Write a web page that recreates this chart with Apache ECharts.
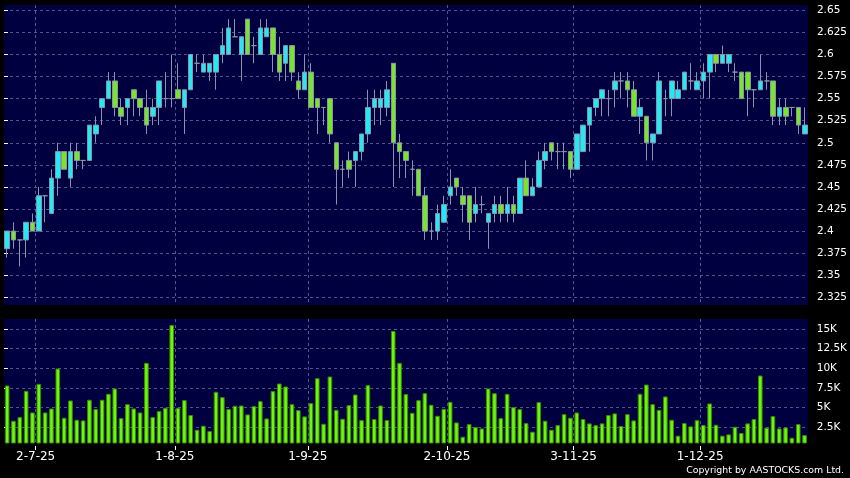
<!DOCTYPE html>
<html><head><meta charset="utf-8">
<script src="https://cdn.jsdelivr.net/npm/echarts@6/dist/echarts.min.js"></script>
<style>html,body{margin:0;padding:0;background:#000;} #c{width:850px;height:478px;}</style>
</head><body><div id="c"></div>
<script>
const dates = ['24-6-25','25-6-25','26-6-25','27-6-25','30-6-25',
'2-7-25','3-7-25','4-7-25','7-7-25','8-7-25','9-7-25','10-7-25','11-7-25','14-7-25','15-7-25','16-7-25','17-7-25','18-7-25','21-7-25','22-7-25','23-7-25','24-7-25','25-7-25','28-7-25','29-7-25','30-7-25','31-7-25',
'1-8-25','4-8-25','5-8-25','6-8-25','7-8-25','8-8-25','11-8-25','12-8-25','13-8-25','14-8-25','15-8-25','18-8-25','19-8-25','20-8-25','21-8-25','22-8-25','25-8-25','26-8-25','27-8-25','28-8-25','29-8-25',
'1-9-25','2-9-25','3-9-25','4-9-25','5-9-25','8-9-25','9-9-25','10-9-25','11-9-25','12-9-25','15-9-25','16-9-25','17-9-25','18-9-25','19-9-25','22-9-25','23-9-25','24-9-25','25-9-25','26-9-25','29-9-25','30-9-25',
'2-10-25','3-10-25','6-10-25','8-10-25','9-10-25','10-10-25','13-10-25','14-10-25','15-10-25','16-10-25','17-10-25','20-10-25','21-10-25','22-10-25','23-10-25','24-10-25','27-10-25','28-10-25','30-10-25','31-10-25',
'3-11-25','4-11-25','5-11-25','6-11-25','7-11-25','10-11-25','11-11-25','12-11-25','13-11-25','14-11-25','17-11-25','18-11-25','19-11-25','20-11-25','21-11-25','24-11-25','25-11-25','26-11-25','27-11-25','28-11-25',
'1-12-25','2-12-25','3-12-25','4-12-25','5-12-25','8-12-25','9-12-25','10-12-25','11-12-25','12-12-25','15-12-25','16-12-25','17-12-25','18-12-25','19-12-25','22-12-25','23-12-25'];

const labelDates = ['2-7-25','1-8-25','1-9-25','2-10-25','3-11-25','1-12-25'];

const open = [2.38,2.40,2.39,2.39,2.41,2.40,2.44,2.42,2.46,2.49,
2.46,2.49,2.48,2.48,2.51,2.54,2.55,2.57,2.54,2.54,
2.56,2.55,2.54,2.53,2.54,2.55,2.55,2.56,2.54,2.56,
2.59,2.58,2.58,2.58,2.60,2.60,2.62,2.60,2.64,2.61,
2.60,2.62,2.63,2.60,2.59,2.61,2.57,2.56,2.58,2.55,
2.54,2.55,2.50,2.47,2.48,2.48,2.49,2.51,2.54,2.54,
2.54,2.59,2.50,2.49,2.47,2.47,2.44,2.40,2.40,2.41,
2.44,2.46,2.44,2.44,2.42,2.43,2.41,2.42,2.43,2.42,
2.43,2.42,2.46,2.44,2.45,2.48,2.50,2.49,2.49,2.49,
2.47,2.49,2.52,2.54,2.55,2.55,2.56,2.57,2.57,2.56,
2.53,2.53,2.50,2.51,2.55,2.55,2.55,2.56,2.57,2.56,
2.57,2.58,2.60,2.59,2.59,2.58,2.58,2.58,2.56,2.56,
2.57,2.57,2.53,2.54,2.54,2.54,2.51];

const high = [2.40,2.41,2.39,2.41,2.42,2.45,2.44,2.47,2.50,2.49,
2.50,2.50,2.48,2.52,2.53,2.55,2.58,2.58,2.55,2.55,
2.56,2.55,2.56,2.55,2.57,2.58,2.60,2.59,2.56,2.60,
2.60,2.60,2.59,2.60,2.63,2.64,2.64,2.62,2.64,2.62,
2.64,2.64,2.63,2.62,2.61,2.61,2.58,2.60,2.59,2.55,
2.54,2.55,2.50,2.48,2.49,2.49,2.51,2.56,2.56,2.56,
2.57,2.59,2.51,2.49,2.48,2.47,2.45,2.41,2.43,2.44,
2.47,2.46,2.45,2.44,2.45,2.44,2.42,2.44,2.44,2.45,
2.44,2.46,2.48,2.46,2.49,2.50,2.50,2.50,2.50,2.49,
2.51,2.52,2.54,2.55,2.56,2.56,2.58,2.58,2.58,2.57,
2.55,2.53,2.51,2.58,2.56,2.57,2.57,2.58,2.59,2.58,
2.59,2.60,2.60,2.61,2.60,2.59,2.58,2.58,2.56,2.60,
2.58,2.57,2.55,2.55,2.54,2.54,2.54];

const low = [2.37,2.38,2.36,2.37,2.40,2.40,2.41,2.42,2.44,2.47,
2.45,2.47,2.47,2.48,2.50,2.52,2.55,2.53,2.52,2.52,
2.53,2.53,2.51,2.52,2.52,2.54,2.54,2.55,2.51,2.56,
2.58,2.58,2.57,2.56,2.59,2.60,2.62,2.57,2.60,2.59,
2.60,2.62,2.58,2.57,2.57,2.57,2.55,2.56,2.54,2.51,
2.52,2.50,2.43,2.45,2.46,2.45,2.48,2.50,2.52,2.52,
2.53,2.45,2.46,2.46,2.44,2.44,2.39,2.39,2.39,2.41,
2.43,2.44,2.41,2.39,2.41,2.42,2.38,2.41,2.41,2.41,
2.41,2.42,2.44,2.44,2.45,2.47,2.48,2.47,2.47,2.46,
2.47,2.49,2.49,2.53,2.53,2.53,2.54,2.55,2.54,2.53,
2.51,2.48,2.48,2.51,2.53,2.53,2.55,2.56,2.56,2.56,
2.55,2.55,2.58,2.59,2.58,2.57,2.55,2.53,2.54,2.56,
2.56,2.52,2.52,2.52,2.53,2.51,2.51];

const close = [2.40,2.39,2.39,2.41,2.40,2.44,2.44,2.46,2.49,2.47,
2.49,2.48,2.48,2.52,2.52,2.55,2.57,2.54,2.53,2.55,
2.55,2.54,2.52,2.54,2.57,2.55,2.55,2.55,2.56,2.60,
2.59,2.59,2.59,2.60,2.61,2.63,2.62,2.62,2.60,2.61,
2.63,2.63,2.60,2.58,2.61,2.58,2.56,2.58,2.54,2.54,
2.54,2.51,2.47,2.47,2.47,2.49,2.51,2.54,2.55,2.55,
2.56,2.50,2.49,2.48,2.47,2.44,2.40,2.40,2.42,2.43,
2.45,2.45,2.43,2.41,2.43,2.43,2.42,2.43,2.42,2.43,
2.42,2.46,2.44,2.45,2.48,2.49,2.49,2.49,2.49,2.47,
2.51,2.52,2.54,2.55,2.56,2.55,2.57,2.57,2.56,2.53,
2.54,2.50,2.51,2.57,2.55,2.57,2.56,2.58,2.57,2.57,
2.58,2.60,2.59,2.60,2.60,2.58,2.55,2.56,2.56,2.57,
2.57,2.53,2.54,2.53,2.54,2.52,2.52];

const volume = [7800,3300,3770,7120,4360,8010,4360,4870,9960,3690,
5890,3430,3350,5980,4790,5980,6740,7420,3640,5420,
4870,4360,10680,3770,4530,4960,15510,4960,5930,4030,
2160,2670,1990,6990,6310,4790,5210,5250,4110,5170,
5810,3600,7080,8050,7670,5420,4660,3860,5550,8730,
2920,8940,4700,3560,5300,6650,3390,7840,3520,5250,
3390,14750,10680,6700,4320,5930,6820,5340,3940,4830,
5720,3090,1270,2880,2500,2330,7420,6820,3640,6740,
5040,4790,3010,1910,5680,3310,2160,2750,4150,3690,
4360,3520,2970,2750,2970,4030,4240,2630,4150,3350,
6740,7920,5420,4700,6400,3430,1400,3010,2590,3390,
2750,5510,2800,1400,1570,2540,1740,2970,3520,9070,
2420,3900,2330,2460,1140,2880,1480];

const priceTicks = [2.325,2.35,2.375,2.4,2.425,2.45,2.475,2.5,2.525,2.55,2.575,2.6,2.625,2.65];
const priceTickLabels = ['2.325','2.35','2.375','2.4','2.425','2.45','2.475','2.5','2.525','2.55','2.575','2.6','2.625','2.65'];
const volumeTicks = [2500,5000,7500,10000,12500,15000];
const volumeTickLabels = ['2.5K','5K','7.5K','10K','12.5K','15K'];

const candles = dates.map((d, i) => [open[i], close[i], low[i], high[i]]);
// slot boundary index of each labelled date (left edge of its trading-day slot)
const labelIdx = labelDates.map(d => dates.indexOf(d));
const pick = (ticks, labels) => v => { const k = ticks.findIndex(t => Math.abs(t - v) < 1e-6); return k >= 0 ? labels[k] : ''; };

const dash = { color: '#54548c', type: [3, 3], width: 1 };
const labelFont = { color: '#ffffff', fontFamily: 'DejaVu Sans' };

const chart = echarts.init(document.getElementById('c'), null, { renderer: 'canvas' });
chart.setOption({
  backgroundColor: '#000000',
  animation: false,
  grid: [
    { left: 4, top: 5, width: 804, height: 300, show: true, backgroundColor: '#000040', borderWidth: 0 },
    { left: 4, top: 319, width: 804, height: 124, show: true, backgroundColor: '#000040', borderWidth: 0 }
  ],
  xAxis: [
    // category axes that carry the marks
    { type: 'category', gridIndex: 0, data: dates, boundaryGap: true, position: 'top', show: false },
    { type: 'category', gridIndex: 1, data: dates, boundaryGap: true, position: 'top', show: false },
    // slot-boundary axes for the date gridlines / labels
    { type: 'value', gridIndex: 0, position: 'bottom', min: 0, max: dates.length,
      axisLine: { show: false },
      axisTick: { show: false, customValues: labelIdx },
      axisLabel: { show: false, customValues: labelIdx },
      splitLine: { show: true, lineStyle: dash } },
    { type: 'value', gridIndex: 1, position: 'bottom', min: 0, max: dates.length, offset: 3,
      axisLine: { show: false },
      axisTick: { show: true, length: 4, customValues: labelIdx, lineStyle: { color: '#ffffff' } },
      axisLabel: Object.assign({ show: true, customValues: labelIdx, formatter: v => dates[Math.round(v)], fontSize: 12, margin: 5 }, labelFont),
      splitLine: { show: true, lineStyle: dash } }
  ],
  yAxis: [
    { type: 'value', gridIndex: 0, position: 'right', min: 2.3163, max: 2.656, offset: 2,
      axisLine: { show: false },
      axisTick: { show: true, length: 4, customValues: priceTicks, lineStyle: { color: '#ffffff' } },
      axisLabel: Object.assign({ customValues: priceTicks, formatter: pick(priceTicks, priceTickLabels), fontSize: 10.5, margin: 7 }, labelFont),
      splitLine: { show: true, lineStyle: dash } },
    { type: 'value', gridIndex: 1, position: 'right', min: 470, max: 16268, offset: 2,
      axisLine: { show: false },
      axisTick: { show: true, length: 4, customValues: volumeTicks, lineStyle: { color: '#ffffff' } },
      axisLabel: Object.assign({ customValues: volumeTicks, formatter: pick(volumeTicks, volumeTickLabels), fontSize: 10.5, margin: 7 }, labelFont),
      splitLine: { show: true, lineStyle: dash } }
  ],
  series: [
    { type: 'candlestick', xAxisIndex: 0, yAxisIndex: 0, data: candles, barWidth: 5,
      itemStyle: { color: '#1eebf5', color0: '#78e628', borderColor: '#8a94a8', borderColor0: '#8a94a8', borderColorDoji: '#8a94a8', borderWidth: 1 } },
    { type: 'bar', xAxisIndex: 1, yAxisIndex: 1, data: volume, barWidth: 4.6,
      itemStyle: { color: '#6cf80a', borderColor: '#3a8a00', borderWidth: 1 } }
  ],
  graphic: [
    { type: 'text', right: 6, top: 466, style: { text: 'Copyright by AASTOCKS.com Ltd.', fill: '#ffffff', font: '9.4px "DejaVu Sans"' } }
  ]
});
</script></body></html>
